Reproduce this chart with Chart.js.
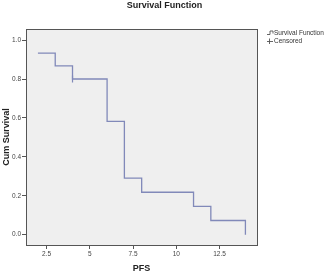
<!DOCTYPE html>
<html>
<head>
<meta charset="utf-8">
<script src="https://cdn.jsdelivr.net/npm/chart.js@4.4.1/dist/chart.umd.min.js"></script>
<style>
  html, body { margin: 0; padding: 0; background: #fff; }
  #wrap { width: 329px; height: 274px; position: relative; }
</style>
</head>
<body>
<div id="wrap"><canvas id="km-chart"></canvas></div>
<script>
// Kaplan-Meier estimate
var pfsTimes = [2, 3, 4, 6, 7, 8, 11, 12, 14];
var survival = [0.933, 0.867, 0.8, 0.582, 0.291, 0.218, 0.145, 0.073, 0.0];
var censoredTimes = [4];
var censoredSurvival = [0.8];
var xTickValues = [2.5, 5, 7.5, 10, 12.5];
var yTickValues = [0, 0.2, 0.4, 0.6, 0.8, 1.0];
var legendLabels = ['Survival Function', 'Censored'];
var chartTitle = 'Survival Function';

var lineColor = '#8189b9';
var axisColor = '#555';
var fontFamily = "'Liberation Sans', Arial, sans-serif";

var survivalPoints = pfsTimes.map(function(t, i) { return { x: t, y: survival[i] }; });
var censoredPoints = censoredTimes.map(function(t, i) { return { x: t, y: censoredSurvival[i] }; });

// grey plot background + box around it, like SPSS
var plotFrame = {
  id: 'plotFrame',
  beforeDatasetsDraw: function(chart) {
    var a = chart.chartArea, ctx = chart.ctx;
    ctx.save();
    ctx.fillStyle = '#efefef';
    ctx.fillRect(a.left, a.top, a.right - a.left, a.bottom - a.top);
    ctx.restore();
  },
  afterDraw: function(chart) {
    var a = chart.chartArea, ctx = chart.ctx;
    ctx.save();
    ctx.strokeStyle = axisColor;
    ctx.lineWidth = 1;
    ctx.strokeRect(Math.round(a.left) + 0.5, Math.round(a.top) + 0.5,
                   Math.round(a.right - a.left), Math.round(a.bottom - a.top));
    // title centred on the whole picture, not on the plot
    ctx.fillStyle = '#222';
    ctx.font = 'bold 9px ' + fontFamily;
    ctx.textAlign = 'center';
    ctx.textBaseline = 'middle';
    ctx.fillText(chartTitle, chart.width / 2, 5.5);
    ctx.restore();
  }
};

// little legend in the top right corner
var sideLegend = {
  id: 'sideLegend',
  afterDraw: function(chart) {
    var ctx = chart.ctx;
    var x0 = 267, y0 = 33, gap = 8;
    ctx.save();
    ctx.strokeStyle = '#555';
    ctx.lineWidth = 0.9;
    // step icon
    ctx.beginPath();
    ctx.moveTo(x0, y0 + 1.5);
    ctx.lineTo(x0 + 3, y0 + 1.5);
    ctx.lineTo(x0 + 3, y0 - 2);
    ctx.lineTo(x0 + 6, y0 - 2);
    ctx.lineTo(x0 + 6, y0 + 0.5);
    ctx.stroke();
    // censored icon
    var y1 = y0 + gap;
    ctx.beginPath();
    ctx.moveTo(x0, y1 + 0.5);
    ctx.lineTo(x0 + 6, y1 + 0.5);
    ctx.moveTo(x0 + 2.5, y1 - 2.5);
    ctx.lineTo(x0 + 2.5, y1 + 3);
    ctx.stroke();
    ctx.fillStyle = '#333';
    ctx.font = '6.5px ' + fontFamily;
    ctx.textBaseline = 'middle';
    ctx.fillText(legendLabels[0], x0 + 7, y0);
    ctx.fillText(legendLabels[1], x0 + 7, y1);
    ctx.restore();
  }
};

new Chart(document.getElementById('km-chart'), {
  type: 'line',
  data: {
    datasets: [{
      label: legendLabels[0],
      data: survivalPoints,
      stepped: true,
      borderColor: lineColor,
      borderWidth: 1.3,
      pointRadius: 0,
      fill: false
    }, {
      label: legendLabels[1],
      data: censoredPoints,
      showLine: false,
      pointStyle: 'line',
      rotation: 90,
      pointRadius: 3.5,
      borderColor: lineColor,
      pointBorderColor: lineColor,
      pointBorderWidth: 1.2
    }]
  },
  plugins: [plotFrame, sideLegend],
  options: {
    responsive: true,
    maintainAspectRatio: false,
    animation: false,
    layout: {
      padding: { left: 0, right: 72, top: 29, bottom: 0 }
    },
    plugins: {
      legend: { display: false },
      tooltip: { enabled: false },
      title: { display: false }
    },
    scales: {
      x: {
        type: 'linear',
        min: 1.31,
        max: 14.67,
        afterBuildTicks: function(scale) {
          scale.ticks = xTickValues.map(function(v) { return { value: v }; });
        },
        afterFit: function(scale) { scale.height = 29; },
        grid: { drawOnChartArea: false, drawTicks: true, tickLength: 4, color: axisColor },
        border: { display: false },
        ticks: {
          color: '#444',
          padding: 1,
          font: { family: fontFamily, size: 6.5 },
          callback: function(v) { return String(v); }
        },
        title: {
          display: true,
          text: 'PFS',
          color: '#222',
          padding: { top: 5, bottom: 0 },
          font: { family: fontFamily, size: 9, weight: 'bold' }
        }
      },
      y: {
        type: 'linear',
        min: -0.053,
        max: 1.057,
        afterBuildTicks: function(scale) {
          scale.ticks = yTickValues.map(function(v) { return { value: v }; });
        },
        afterFit: function(scale) { scale.width = 26; },
        grid: { drawOnChartArea: false, drawTicks: true, tickLength: 4, color: axisColor },
        border: { display: false },
        ticks: {
          color: '#444',
          padding: 1,
          font: { family: fontFamily, size: 6.5 },
          callback: function(v) { return v.toFixed(1); }
        },
        title: {
          display: true,
          text: 'Cum Survival',
          color: '#222',
          padding: { top: 1, bottom: 0 },
          font: { family: fontFamily, size: 9, weight: 'bold' }
        }
      }
    }
  }
});
</script>
</body>
</html>
